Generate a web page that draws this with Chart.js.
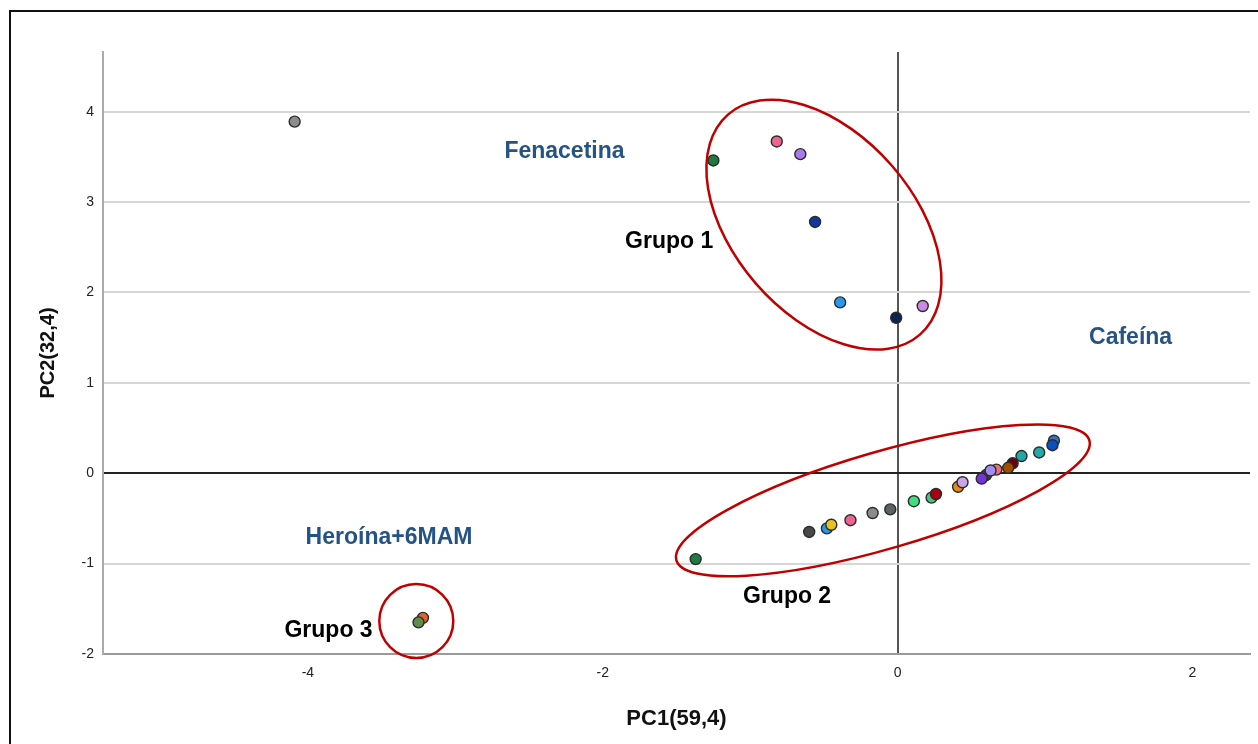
<!DOCTYPE html>
<html>
<head>
<meta charset="utf-8">
<title>PCA - PC1 vs PC2</title>
<script src="https://cdn.jsdelivr.net/npm/chart.js@4.4.1/dist/chart.umd.min.js"></script>
<style>
    html, body { margin: 0; padding: 0; background: #fff; overflow: hidden; }
    #marco { position: absolute; left: 9px; top: 10px; width: 1300px; height: 800px; border-top: 2px solid #111; border-left: 2px solid #111; }
    canvas { position: absolute; left: 0; top: 0; }
</style>
</head>
<body>
<div id="marco"></div>
<canvas id="pcaChart" width="1258" height="744"></canvas>
<script>
// Puntuaciones de las muestras (PC1, PC2)
const pc1 = [
    -4.09, -1.25, -0.82, -0.66, -0.56, -0.39, -0.01, 0.17,
    -3.22, -3.25,
    -1.37, -0.60, -0.48, -0.45, -0.32, -0.17, -0.05, 0.11, 0.23, 0.26, 0.41, 0.44,
    0.60, 0.57, 0.67, 0.63, 0.78, 0.75, 0.84, 0.96, 1.06, 1.05
];
const pc2 = [
    3.89, 3.46, 3.67, 3.53, 2.78, 1.89, 1.72, 1.85,
    -1.60, -1.65,
    -0.95, -0.65, -0.61, -0.57, -0.52, -0.44, -0.40, -0.31, -0.27, -0.23, -0.15, -0.10,
    -0.02, -0.06, 0.04, 0.03, 0.11, 0.06, 0.19, 0.23, 0.36, 0.31
];
const coloresPuntos = [
    '#8c8c8c', '#1d7a3e', '#ee6590', '#a97ae8', '#0d3a9a', '#2a98e6', '#0b2452', '#c98ce0',
    '#e0622e', '#5e8c4a',
    '#1c7e3e', '#484848', '#2a98e6', '#e8c21c', '#ec6492', '#8c8c8c', '#5a6462', '#3ee07c',
    '#4cc07c', '#a8000f', '#e58a18', '#c8a6ea', '#3a3a3a', '#7433d6', '#f06f72', '#a58af2',
    '#6a0010', '#a54c00', '#1fa9a8', '#22aaaa', '#2f75c8', '#0c4fc0'
];

// Ejes
const ticksX = [-4, -2, 0, 2];
const ticksY = [-2, -1, 0, 1, 2, 3, 4];
const rangoX = [-5.39, 2.39];
const rangoY = [-2, 4.66];

// Textos sobre el gráfico (en unidades de los ejes)
const etiquetas = ['Fenacetina', 'Grupo 1', 'Cafeína', 'Heroína+6MAM', 'Grupo 2', 'Grupo 3'];
const etiquetaX = [-2.26, -1.55, 1.58, -3.45, -0.75, -3.86];
const etiquetaY = [3.56, 2.56, 1.50, -0.71, -1.37, -1.74];
const coloresEtiquetas = ['#245385', '#000', '#245385', '#245385', '#000', '#000'];

// Elipses de los grupos: centro en unidades de los ejes
const elipseX = [-0.50, -0.10, -3.265];
const elipseY = [2.75, -0.30, -1.635];
const elipseRadios = [[146, 90, 48.9], [215, 48.5, -16.2], [37, 37, 0]]; // px, px, grados

const fuente = "'Liberation Sans', Arial, sans-serif";

const anotaciones = {
    id: 'anotaciones',
    afterDatasetsDraw(chart) {
        const { ctx, scales: { x, y } } = chart;
        ctx.save();
        ctx.strokeStyle = '#c00000';
        ctx.lineWidth = 2.5;
        elipseX.forEach((ex, i) => {
            const [a, b, ang] = elipseRadios[i];
            ctx.beginPath();
            ctx.ellipse(x.getPixelForValue(ex), y.getPixelForValue(elipseY[i]), a, b, ang * Math.PI / 180, 0, 2 * Math.PI);
            ctx.stroke();
        });
        ctx.font = 'bold 23px ' + fuente;
        ctx.textAlign = 'center';
        ctx.textBaseline = 'middle';
        etiquetas.forEach((t, i) => {
            ctx.fillStyle = coloresEtiquetas[i];
            ctx.fillText(t, x.getPixelForValue(etiquetaX[i]), y.getPixelForValue(etiquetaY[i]));
        });
        ctx.restore();
    }
};

const ctx = document.getElementById('pcaChart').getContext('2d');
new Chart(ctx, {
    type: 'scatter',
    data: {
        datasets: [{
            data: pc1.map((v, i) => ({ x: v, y: pc2[i] })),
            backgroundColor: coloresPuntos,
            borderColor: '#2b2b2b',
            borderWidth: 1.4,
            pointRadius: 5.5,
            pointHoverRadius: 5.5
        }]
    },
    options: {
        responsive: false,
        animation: false,
        layout: { padding: { left: 0, right: 8, top: 52, bottom: 0 } },
        plugins: { legend: { display: false }, tooltip: { enabled: false } },
        scales: {
            x: {
                type: 'linear',
                min: rangoX[0],
                max: rangoX[1],
                afterBuildTicks: s => { s.ticks = ticksX.map(v => ({ value: v })); },
                afterFit: s => { s.height = 90; },
                ticks: { color: '#222', font: { family: fuente, size: 14 }, padding: 11 },
                grid: {
                    drawTicks: false,
                    color: c => (c.tick && c.tick.value === 0 ? '#555' : 'rgba(0,0,0,0)'),
                    lineWidth: 2
                },
                border: { color: '#9a9a9a', width: 2 },
                title: {
                    display: true,
                    text: 'PC1(59,4)',
                    color: '#111',
                    font: { family: fuente, size: 22, weight: 'bold' },
                    padding: { top: 0, bottom: 12 }
                }
            },
            y: {
                type: 'linear',
                min: rangoY[0],
                max: rangoY[1],
                afterBuildTicks: s => { s.ticks = ticksY.map(v => ({ value: v })); },
                afterFit: s => { s.width = 103; },
                ticks: { color: '#222', font: { family: fuente, size: 14 }, padding: 9 },
                grid: {
                    drawTicks: false,
                    color: c => {
                        if (!c.tick) return 'rgba(0,0,0,0)';
                        if (c.tick.value === 0) return '#222';
                        if (c.tick.value === rangoY[0]) return 'rgba(0,0,0,0)';
                        return '#d6d6d6';
                    },
                    lineWidth: 2
                },
                border: { color: '#ababab', width: 2 },
                title: {
                    display: true,
                    text: 'PC2(32,4)',
                    color: '#111',
                    font: { family: fuente, size: 20, weight: 'bold' },
                    padding: { top: 36, bottom: 0 }
                }
            }
        }
    },
    plugins: [anotaciones]
});
</script>
</body>
</html>
